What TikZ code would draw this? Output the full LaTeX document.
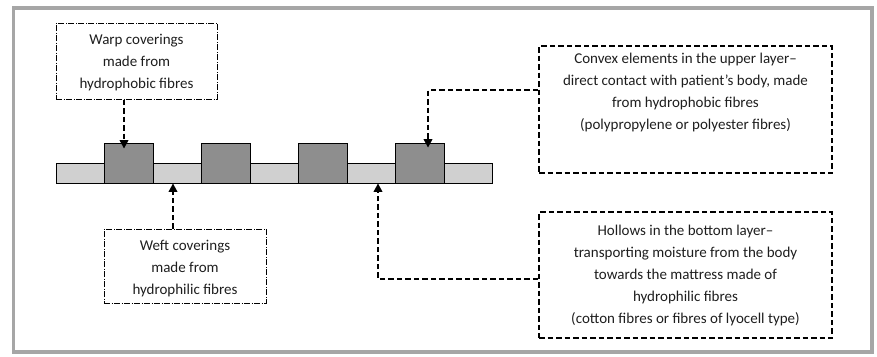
\documentclass[tikz,border=0pt]{standalone}
\usepackage{fontspec}
\setmainfont{Carlito}
\usetikzlibrary{arrows.meta}
\definecolor{framegray}{HTML}{A6A6A6}
\definecolor{bandgray}{HTML}{D0D0D0}
\definecolor{sqgray}{HTML}{8E8E8E}
\definecolor{txtgray}{HTML}{1E1E1E}
\begin{document}
\begin{tikzpicture}[x=1pt,y=-1pt,
  frame/.style={draw=framegray,line width=3.5pt},
  bandbox/.style={draw=black,fill=bandgray,line width=0.8pt,minimum width=436pt,minimum height=20pt,inner sep=0pt},
  sqbox/.style={draw=black,fill=sqgray,line width=0.8pt,minimum width=49pt,minimum height=40pt,inner sep=0pt},
  dashbox/.style={draw=black,line width=2pt,dash pattern=on 5.5pt off 3pt,inner sep=0pt},
  dotbox/.style={draw=black,line width=1pt,dash pattern=on 6pt off 1.5pt on 1pt off 1.5pt,inner sep=0pt},
  txt/.style={text=txtgray,font=\fontsize{15pt}{22pt}\selectfont,align=center,inner sep=0pt},
  conn/.style={draw=black,line width=2pt,dash pattern=on 5.5pt off 3pt,-{Triangle[width=8.5pt,length=8.5pt]}}]
\useasboundingbox (0,0) rectangle (877,356);
\draw[frame] (13.5,8) rectangle (872,352);
% fabric
\node[bandbox] (band) at (274,173) {};
\node[sqbox] (s1) at (128.5,163) {};
\node[sqbox] (s2) at (225.5,163) {};
\node[sqbox] (s3) at (322.5,163) {};
\node[sqbox] (s4) at (419.5,163) {};
% boxes
\node[dotbox,minimum width=161pt,minimum height=76pt] (warp) at (136.5,61) {};
\node[txt] (warpT) at (136.5,62.5) {Warp coverings\\made from\\hydrophobic fibres};
\node[dotbox,minimum width=162pt,minimum height=74pt] (weft) at (185,266) {};
\node[txt] (weftT) at (185,269) {Weft coverings\\made from\\hydrophilic fibres};
\node[dashbox,minimum width=293pt,minimum height=127pt] (convex) at (685.5,109.5) {};
\node[txt] (convexT) at (685.5,92.5) {Convex elements in the upper layer–\\direct contact with patient’s body, made\\from hydrophobic fibres\\(polypropylene or polyester fibres)};
\node[dashbox,minimum width=293pt,minimum height=126pt] (hollows) at (685.5,275) {};
\node[txt] (hollowsT) at (685.5,275) {Hollows in the bottom layer–\\transporting moisture from the body\\towards the mattress made of\\hydrophilic fibres\\(cotton fibres or fibres of lyocell type)};
% connectors
\draw[conn] ([xshift=-12.5pt]warp.south) -- ([xshift=-4.5pt,yshift=-6pt]s1.north);
\draw[conn] ([xshift=-12pt]weft.north) -- ([xshift=-12pt]weft.north |- band.south);
\draw[conn] ([yshift=-4pt]hollows.west) -| ([xshift=104pt]band.south);
\draw[conn] ([yshift=19.5pt]convex.west) -| ([xshift=8.5pt,yshift=-5pt]s4.north);
\end{tikzpicture}
\end{document}
